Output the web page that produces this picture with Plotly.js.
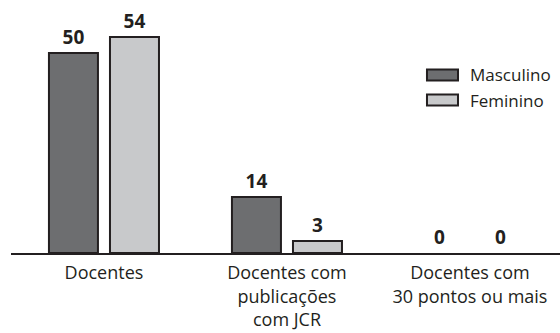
<!DOCTYPE html>
<html><head><meta charset="utf-8">
<script src="https://cdn.plot.ly/plotly-3.0.1.min.js"></script>
<style>html,body{margin:0;padding:0;background:#fff}</style>
</head><body><div id="chart" style="width:560px;height:333px"></div>
<script>
var categories = ["Docentes", "Docentes com<br>publicações<br>com JCR", "Docentes com<br>30 pontos ou mais"];
var masculino = [50, 14, 0];
var feminino = [54, 3, 0];
var seriesNames = ["Masculino", "Feminino"];
var seriesColors = ["#6d6e70", "#c8c9cb"];
var ink = "#231f20";
var fontFam = "Open Sans, Noto Sans, sans-serif";

function barTrace(name, vals, color) {
  return {
    type: "bar", name: name, x: categories, y: vals,
    marker: {color: color, line: {color: ink, width: vals.map(function(v){ return v > 0 ? 2 : 0; })}},
    text: vals.map(String), textposition: "outside",
    textfont: {family: fontFam, size: 19, color: ink, weight: "bold"},
    cliponaxis: false, showlegend: false, hoverinfo: "none"
  };
}
var traces = [barTrace(seriesNames[0], masculino, seriesColors[0]), barTrace(seriesNames[1], feminino, seriesColors[1])];

// custom legend (paper coords of plot area)
var legY = [0.742, 0.6375];
var shapes = [], annotations = [];
for (var i = 0; i < seriesNames.length; i++) {
  shapes.push({type: "rect", xref: "paper", yref: "paper", x0: 0.7577, x1: 0.8142,
    y0: legY[i] - 0.023, y1: legY[i] + 0.023, fillcolor: seriesColors[i], line: {color: ink, width: 2}});
  annotations.push({xref: "paper", yref: "paper", x: 0.832, y: legY[i], xanchor: "left", yanchor: "middle",
    text: seriesNames[i], showarrow: false, font: {family: fontFam, size: 17, color: ink}});
}

var layout = {
  width: 560, height: 333,
  margin: {l: 11, r: 0, t: 13, b: 80},
  paper_bgcolor: "#fff", plot_bgcolor: "#fff",
  barmode: "group", bargap: 0.333, bargroupgap: 0.197,
  font: {family: fontFam, size: 18, color: ink},
  xaxis: {range: [-0.508, 2.492], showline: true, linecolor: ink, linewidth: 1.5,
    ticks: "", ticklabelstandoff: 3, showgrid: false, zeroline: false, fixedrange: true,
    tickfont: {family: fontFam, size: 18, color: ink}},
  yaxis: {range: [0, 60], visible: false, showgrid: false, zeroline: false, fixedrange: true},
  shapes: shapes, annotations: annotations, showlegend: false
};
Plotly.newPlot("chart", traces, layout, {displayModeBar: false, staticPlot: true});
</script></body></html>
